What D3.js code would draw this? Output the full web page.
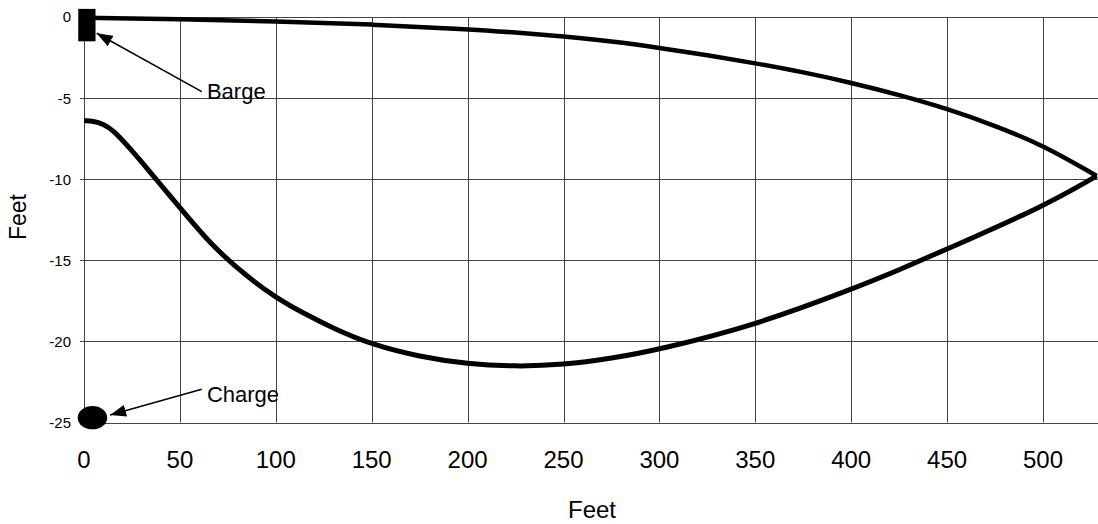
<!DOCTYPE html>
<html>
<head>
<meta charset="utf-8">
<script src="https://cdn.jsdelivr.net/npm/d3@7/dist/d3.min.js"></script>
<style>
  html, body { margin: 0; padding: 0; background: #fff; }
  svg { display: block; font-family: "Liberation Sans", Arial, sans-serif; }
</style>
</head>
<body>
<svg id="chart" width="1098" height="524"></svg>
<script>
// ---- Data ----
const xTicks = [0, 50, 100, 150, 200, 250, 300, 350, 400, 450, 500];
const yTicks = [0, -5, -10, -15, -20, -25];

// Upper curve (barge-side profile)
const upperX = [0, 50, 100, 150, 200, 225, 250, 275, 300, 325, 350, 375, 400, 425, 450, 475, 500, 528];
const upperY = [-0.05, -0.12, -0.27, -0.45, -0.75, -0.95, -1.2, -1.5, -1.9, -2.35, -2.85, -3.4, -4.05, -4.8, -5.65, -6.7, -7.9, -9.8];

// Lower curve (charge-side profile)
const lowerX = [0, 5, 10, 15, 24, 33, 50, 67, 85, 100, 115, 130, 150, 175, 200, 225, 250, 275, 300, 350, 400, 425, 450, 500, 528];
const lowerY = [-6.4, -6.42, -6.6, -6.95, -8.1, -9.35, -11.75, -14.15, -16.0, -17.3, -18.3, -19.2, -20.2, -20.95, -21.4, -21.55, -21.45, -21.05, -20.5, -19.0, -16.8, -15.6, -14.3, -11.7, -9.8];

// Annotations (data units)
const bargeRect = { x0: -3, x1: 6, y0: 0.5, y1: -1.5 };
const chargeEllipse = { cx: 4.4, cy: -24.7, rx: 7.7, ry: 0.72 };
const labels = [
  { text: "Barge",  x: 64.1, y: -5.06, ax0: 61.4, ay0: -4.6,   ax1: 6.6,  ay1: -1.0 },
  { text: "Charge", x: 64.1, y: -23.72, ax0: 61.4, ay0: -22.95, ax1: 13.6, ay1: -24.54 }
];

// ---- Scales ----
const svg = d3.select("#chart");
const x = d3.scaleLinear().domain([0, 530]).range([84, 84 + 530 * 1.918]);
const y = d3.scaleLinear().domain([-25, 0]).range([422.5, 17]);
const xEnd = 1098;

// Gridlines
const grid = svg.append("g").attr("stroke", "#444").attr("stroke-width", 1);
grid.selectAll(".hg").data(yTicks).join("line")
  .attr("x1", 80).attr("x2", xEnd)
  .attr("y1", d => Math.round(y(d)) + 0.5).attr("y2", d => Math.round(y(d)) + 0.5);
grid.selectAll(".vg").data(xTicks).join("line")
  .attr("x1", d => Math.round(x(d)) + 0.5).attr("x2", d => Math.round(x(d)) + 0.5)
  .attr("y1", y(0)).attr("y2", y(-25));

// Axis labels
svg.append("g").selectAll("text").data(yTicks).join("text")
  .attr("x", 71).attr("y", d => y(d)).attr("dy", "0.36em")
  .attr("text-anchor", "end").attr("font-size", 15).attr("fill", "#000")
  .text(d => d);
svg.append("g").selectAll("text").data(xTicks).join("text")
  .attr("x", d => x(d)).attr("y", 468)
  .attr("text-anchor", "middle").attr("font-size", 24).attr("fill", "#000")
  .text(d => d);

svg.append("text").attr("x", 592).attr("y", 518)
  .attr("text-anchor", "middle").attr("font-size", 24).text("Feet");
svg.append("text").attr("transform", "translate(25.5,217) rotate(-90)")
  .attr("text-anchor", "middle").attr("font-size", 23).text("Feet");

// Curves
const line = d3.line().x(d => x(d[0])).y(d => y(d[1])).curve(d3.curveBasis);
const upper = d3.zip(upperX, upperY);
const lower = d3.zip(lowerX, lowerY);
svg.append("path").datum(upper).attr("d", line)
  .attr("fill", "none").attr("stroke", "#000").attr("stroke-width", 4.5).attr("stroke-linejoin", "round");
svg.append("path").datum(lower).attr("d", line)
  .attr("fill", "none").attr("stroke", "#000").attr("stroke-width", 5).attr("stroke-linejoin", "round");

// Barge & charge markers
svg.append("rect")
  .attr("x", x(bargeRect.x0)).attr("y", y(bargeRect.y0))
  .attr("width", x(bargeRect.x1) - x(bargeRect.x0))
  .attr("height", y(bargeRect.y1) - y(bargeRect.y0))
  .attr("fill", "#000");
svg.append("ellipse")
  .attr("cx", x(chargeEllipse.cx)).attr("cy", y(chargeEllipse.cy))
  .attr("rx", x(chargeEllipse.rx) - x(0)).attr("ry", y(0) - y(chargeEllipse.ry))
  .attr("fill", "#000");

// Arrowhead marker
svg.append("defs").append("marker")
  .attr("id", "ah").attr("viewBox", "0 0 16 12")
  .attr("refX", 16).attr("refY", 6)
  .attr("markerWidth", 16).attr("markerHeight", 12)
  .attr("markerUnits", "userSpaceOnUse").attr("orient", "auto")
  .append("path").attr("d", "M0,0 L16,6 L0,12 Z").attr("fill", "#000");

const ann = svg.append("g");
ann.selectAll("line").data(labels).join("line")
  .attr("x1", d => x(d.ax0)).attr("y1", d => y(d.ay0))
  .attr("x2", d => x(d.ax1)).attr("y2", d => y(d.ay1))
  .attr("stroke", "#000").attr("stroke-width", 1.5)
  .attr("marker-end", "url(#ah)");
ann.selectAll("text").data(labels).join("text")
  .attr("x", d => x(d.x)).attr("y", d => y(d.y))
  .attr("font-size", 22).attr("fill", "#000")
  .text(d => d.text);
</script>
</body>
</html>
